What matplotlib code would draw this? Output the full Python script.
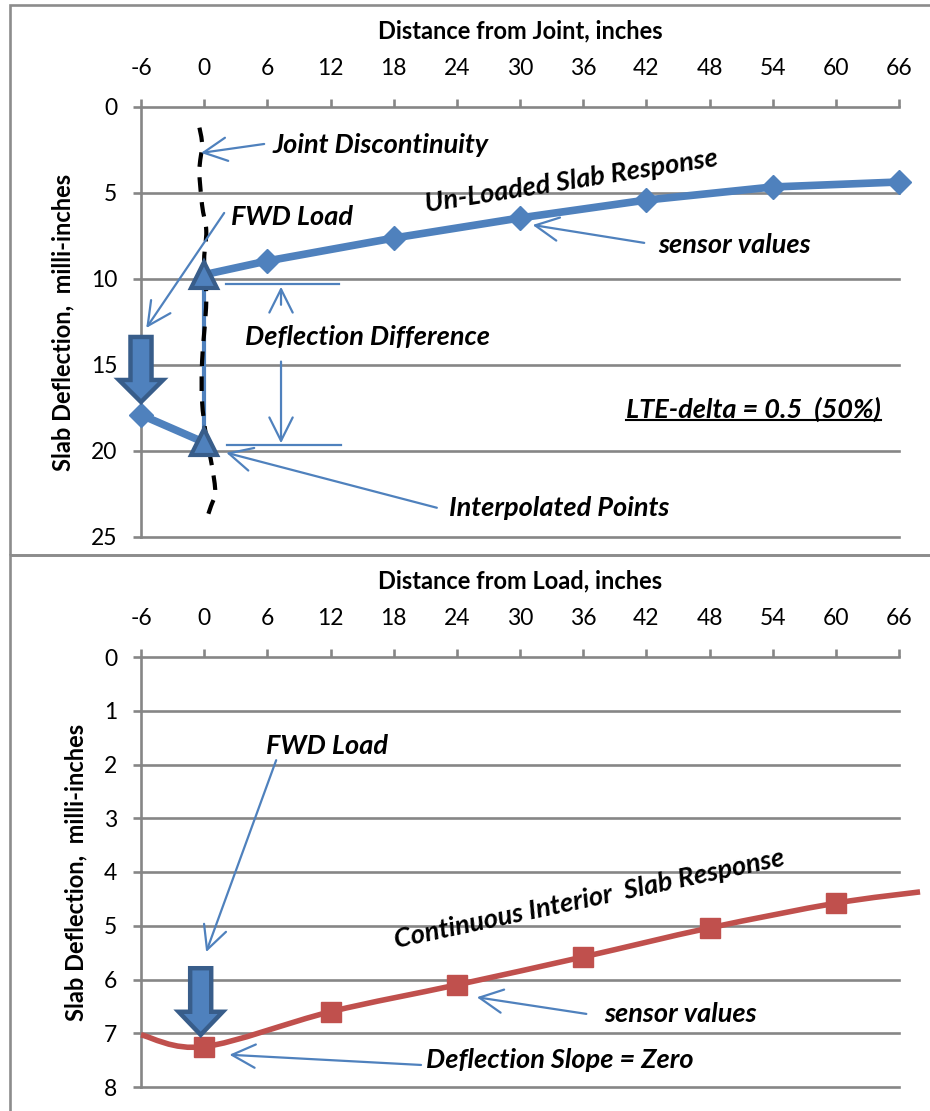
import numpy as np
import matplotlib.pyplot as plt
from matplotlib.path import Path
from matplotlib.patches import PathPatch, FancyArrow, Rectangle
from matplotlib.lines import Line2D

plt.rcParams['font.family'] = ['Lato', 'DejaVu Sans']

# x positions (inches) shared by both panels
x_ticks = [-6, 0, 6, 12, 18, 24, 30, 36, 42, 48, 54, 60, 66]
x_labels = ['-6', '0', '6', '12', '18', '24', '30', '36', '42', '48', '54', '60', '66']

# top panel: joint test
unloaded_x = [0, 6, 18, 30, 42, 54, 66]
unloaded_y = [9.75, 8.95, 7.62, 6.45, 5.41, 4.65, 4.36]
loaded_x = [-6, 0]
loaded_y = [17.9, 19.5]
joint_y_ticks = [0, 5, 10, 15, 20, 25]
# hand-drawn joint line (x, deflection)
joint_curve_x = [-0.45, -0.2, -0.45, -0.2, 0.2, 0.0, 0.2, -0.2, -0.2, 0.2, 0.75, 1.05, 0.65, 0.2]
joint_curve_y = [1.2, 2.2, 3.7, 5.7, 7.2, 8.9, 11.3, 14.8, 17.1, 19.2, 20.9, 22.4, 23.2, 24.0]

# bottom panel: interior test
interior_x = [-6, 0, 12, 24, 36, 48, 60, 68]
interior_y = [7.03, 7.25, 6.6, 6.1, 5.58, 5.04, 4.58, 4.37]
sensor_x = [0, 12, 24, 36, 48, 60]
sensor_y = [7.25, 6.6, 6.1, 5.58, 5.04, 4.58]
interior_y_ticks = [0, 1, 2, 3, 4, 5, 6, 7, 8]

BLUE = '#4f81bd'
DARK = '#385d8a'
RED = '#c0504d'
GRAY = '#868686'
NOTE_SIZE = 19.5


def smooth_path(xs, ys):
    pts = np.column_stack([xs, ys])
    p = np.vstack([pts[0], pts, pts[-1]])
    verts = [pts[0]]
    codes = [Path.MOVETO]
    for i in range(1, len(p) - 2):
        p0, p1, p2, p3 = p[i - 1], p[i], p[i + 1], p[i + 2]
        verts += [p1 + (p2 - p0) / 6, p2 - (p3 - p1) / 6, p2]
        codes += [Path.CURVE4] * 3
    return Path(verts, codes)


def setup(ax, title, yticks):
    ax.set_xlim(-6, 66)
    ax.set_ylim(yticks[-1], 0)
    ax.xaxis.tick_top()
    ax.xaxis.set_label_position('top')
    ax.set_xticks(x_ticks)
    ax.set_xticklabels(x_labels)
    ax.set_yticks(yticks)
    for s in ['top', 'right', 'bottom']:
        ax.spines[s].set_visible(False)
    ax.spines['left'].set_color(GRAY)
    ax.spines['left'].set_linewidth(1.9)
    for v in yticks:
        ax.axhline(v, color=GRAY, lw=1.9, clip_on=False, zorder=0.5)
    ax.tick_params(axis='both', length=6, width=1.9, color=GRAY, labelsize=16.5)
    ax.tick_params(axis='x', pad=14)
    ax.tick_params(axis='y', pad=11)
    ax.set_xlabel(title, fontsize=17, fontweight='bold', labelpad=14)
    ax.set_ylabel('Slab Deflection,  milli-inches', fontsize=17, fontweight='bold', labelpad=12)


def note(ax, x, y, s, **kw):
    return ax.text(x, y, s, fontsize=NOTE_SIZE, fontweight='bold', fontstyle='italic',
                   va='center', ha='left', **kw)


def pointer(ax, tail, head):
    ax.annotate('', xy=head, xytext=tail,
                arrowprops=dict(arrowstyle='->,head_length=0.7,head_width=0.35',
                                color=BLUE, lw=1.6, shrinkA=0, shrinkB=0,
                                mutation_scale=24))


def block_arrow(ax, x, y0, y1, head_len):
    ax.add_patch(FancyArrow(x, y0, 0, y1 - y0, width=2.0, head_width=4.2,
                            head_length=head_len, length_includes_head=True,
                            facecolor=BLUE, edgecolor=DARK, lw=3.2, zorder=6,
                            clip_on=False))


fig = plt.figure(figsize=(9.3, 11.11), dpi=100)

# panel frames
fig.add_artist(Rectangle((10 / 930, 1 - 555 / 1111), 1.0, 550 / 1111, transform=fig.transFigure,
                         fill=False, edgecolor='#8c8c8c', lw=1.9))
fig.add_artist(Rectangle((10 / 930, -0.01), 1.0, 1 - 555 / 1111 + 0.01, transform=fig.transFigure,
                         fill=False, edgecolor='#8c8c8c', lw=1.9))

ax1 = fig.add_axes([141 / 930, 1 - 537 / 1111, 758 / 930, 430 / 1111])
ax2 = fig.add_axes([141 / 930, 1 - 1087 / 1111, 758 / 930, 430 / 1111])

# ---- top panel ----
setup(ax1, 'Distance from Joint, inches', joint_y_ticks)
ax1.plot([0, 0], [unloaded_y[0], loaded_y[1]], color=BLUE, lw=3, zorder=2)
ax1.add_patch(PathPatch(smooth_path(joint_curve_x, joint_curve_y), fill=False,
                        edgecolor='black', lw=3, linestyle=(0, (3.5, 2.5)), zorder=3))
ax1.plot(unloaded_x[1:], unloaded_y[1:], color=BLUE, lw=5.5, marker='D', ms=12,
         clip_on=False, zorder=4)
ax1.plot(unloaded_x[:2], unloaded_y[:2], color=BLUE, lw=5.5, zorder=4)
ax1.plot(loaded_x, loaded_y, color=BLUE, lw=5.5, zorder=4)
ax1.plot(loaded_x[0], loaded_y[0], color=BLUE, marker='D', ms=12, clip_on=False, zorder=4)
ax1.plot([0, 0], [unloaded_y[0], loaded_y[1]], ls='none', marker='^', ms=19,
         mfc=BLUE, mec=DARK, mew=3, zorder=5)
block_arrow(ax1, -6, 13.37, 17.15, 1.28)

note(ax1, 6.46, 2.2, 'Joint Discontinuity')
pointer(ax1, (5.7, 2.15), (-0.3, 2.67))
note(ax1, 2.57, 6.4, 'FWD Load')
pointer(ax1, (1.9, 6.16), (-5.5, 12.85))
ax1.text(34.9, 4.3, 'Un-Loaded Slab Response', fontsize=NOTE_SIZE, fontweight='bold',
         fontstyle='italic', ha='center', va='center', rotation=9)
note(ax1, 43.1, 8.0, 'sensor values')
pointer(ax1, (41.8, 7.9), (31.2, 6.86))
ax1.text(15.5, 13.4, 'Deflection Difference', fontsize=NOTE_SIZE, fontweight='bold',
         fontstyle='italic', ha='center', va='center')
ax1.plot([2.1, 12.8], [10.3, 10.3], color=BLUE, lw=1.6)
ax1.plot([2.2, 13.0], [19.65, 19.65], color=BLUE, lw=1.6)
pointer(ax1, (7.3, 11.5), (7.3, 10.45))
pointer(ax1, (7.3, 14.8), (7.3, 19.55))
lte = note(ax1, 40.1, 17.6, 'LTE-delta = 0.5  (50%)')
note(ax1, 23.3, 23.3, 'Interpolated Points')
pointer(ax1, (22.1, 23.3), (2.1, 20.1))

# ---- bottom panel ----
setup(ax2, 'Distance from Load, inches', interior_y_ticks)
ax2.add_patch(PathPatch(smooth_path(interior_x, interior_y), fill=False,
                        edgecolor=RED, lw=4, clip_on=False, zorder=4))
ax2.plot(sensor_x, sensor_y, ls='none', marker='s', ms=14, color=RED, zorder=5)
block_arrow(ax2, -0.33, 5.79, 7.03, 0.43)

note(ax2, 5.9, 1.66, 'FWD Load')
pointer(ax2, (6.84, 1.92), (0.19, 5.49))
ax2.text(36.6, 4.5, 'Continuous Interior  Slab Response', fontsize=NOTE_SIZE, fontweight='bold',
         fontstyle='italic', ha='center', va='center', rotation=12)
note(ax2, 38.0, 6.64, 'sensor values')
pointer(ax2, (36.3, 6.64), (25.9, 6.33))
note(ax2, 21.1, 7.5, 'Deflection Slope = Zero')
pointer(ax2, (20.6, 7.59), (2.4, 7.4))

# underline for the LTE note
fig.canvas.draw()
bb = lte.get_window_extent().transformed(fig.transFigure.inverted())
fig.add_artist(Line2D([bb.x0, bb.x1], [bb.y0 + 0.002, bb.y0 + 0.002], transform=fig.transFigure,
                      color='black', lw=1.5))

fig.savefig('out.png', dpi=100)
